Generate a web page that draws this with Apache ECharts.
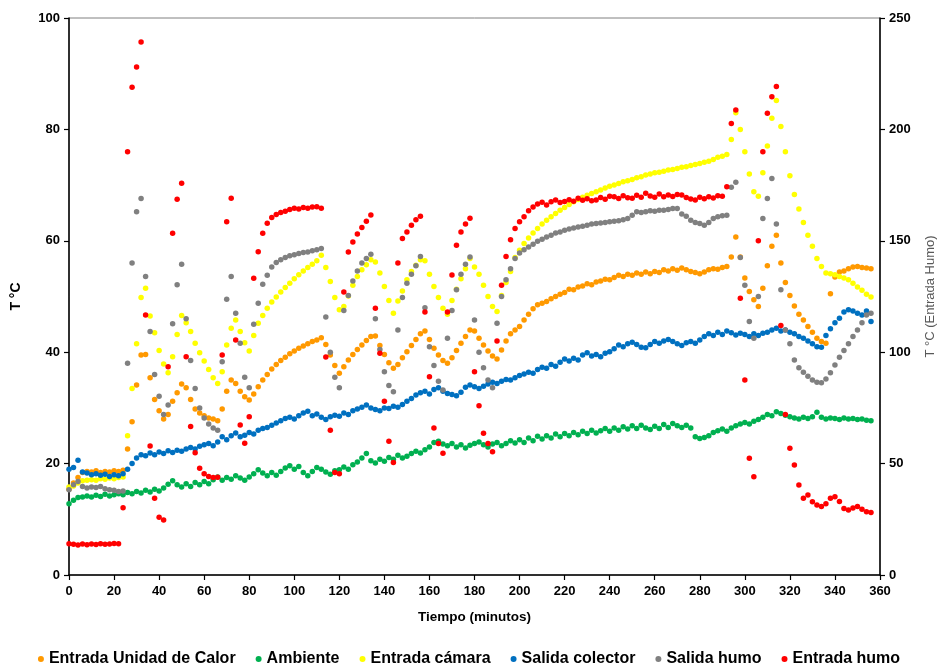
<!DOCTYPE html>
<html>
<head>
<meta charset="utf-8">
<script src="https://cdn.jsdelivr.net/npm/echarts@6/dist/echarts.min.js"></script>
<style>
html,body{margin:0;padding:0;background:#fff}
#grafico{width:938px;height:664px}
</style>
</head>
<body>
<div id="grafico"></div>
<script>
// tiempo en minutos
var tiempo = [0,2,4,6,8,10,12,14,16,18,20,22,24,26,28,30,32,34,36,38,40,42,44,46,48,50,52,54,56,58,
  60,62,64,66,68,70,72,74,76,78,80,82,84,86,88,90,92,94,96,98,100,102,104,106,108,110,112,114,116,118,
  120,122,124,126,128,130,132,134,136,138,140,142,144,146,148,150,152,154,156,158,160,162,164,166,168,170,172,174,176,178,
  180,182,184,186,188,190,192,194,196,198,200,202,204,206,208,210,212,214,216,218,220,222,224,226,228,230,232,234,236,238,
  240,242,244,246,248,250,252,254,256,258,260,262,264,266,268,270,272,274,276,278,280,282,284,286,288,290,292,294,296,298,
  300,302,304,306,308,310,312,314,316,318,320,322,324,326,328,330,332,334,336,338,340,342,344,346,348,350,352,354,356];

var entradaUnidadCalor = [
  15.4,16.5,17.5,18.4,18.6,18.5,18.7,18.4,18.6,18.5,
  18.7,18.6,18.8,22.6,27.5,34.1,39.5,39.6,35.4,31.5,
  29.5,28.0,28.8,31.2,32.7,34.3,33.6,31.5,29.8,29.1,
  28.6,28.2,28.0,27.7,29.8,33.0,35.0,34.4,33.0,32.0,
  31.4,32.5,33.8,35.0,36.0,37.0,37.8,38.5,39.1,39.7,
  40.2,40.7,41.1,41.5,41.9,42.2,42.6,41.4,39.5,37.6,
  36.2,37.4,38.6,39.6,40.5,41.3,42.1,42.8,42.9,41.2,
  39.6,38.1,37.1,37.8,39.0,40.1,41.2,42.3,43.3,43.8,
  42.3,40.7,39.5,38.5,38.0,39.0,40.3,41.6,42.8,44.0,
  43.8,42.5,41.3,40.2,39.3,38.8,40.4,42.0,43.3,44.0,
  44.6,45.8,46.8,47.8,48.5,48.8,49.1,49.6,50.0,50.4,
  50.7,51.3,51.2,51.7,51.9,52.3,52.1,52.6,52.8,53.1,
  53.0,53.4,53.8,53.6,54.0,53.8,54.2,54.0,54.4,54.1,
  54.5,54.3,54.8,54.6,55.0,54.7,55.1,54.8,54.5,54.3,
  54.1,54.4,54.8,55.0,54.9,55.2,55.4,57.1,60.7,57.1,
  53.3,50.9,49.4,48.2,51.5,55.5,59.0,61.0,56.0,52.5,
  50.2,48.3,46.8,45.8,44.6,43.6,42.5,41.9,41.6,50.5,
  53.5,54.4,54.6,55.0,55.3,55.4,55.2,55.1,55.0];

var ambiente = [
  12.8,13.4,13.9,14.0,14.2,14.0,14.3,14.1,14.5,14.2,
  14.4,14.6,14.4,14.8,14.6,15.0,14.7,15.2,14.9,15.4,
  15.1,15.6,16.3,16.9,16.2,15.8,16.4,15.9,16.6,16.2,
  16.8,16.4,17.1,17.6,17.0,17.5,17.2,17.8,17.4,17.0,
  17.6,18.2,18.9,18.3,17.8,18.4,17.9,18.6,19.2,19.6,
  19.0,19.5,18.4,17.8,18.6,19.3,19.0,18.5,18.1,18.7,
  18.9,19.4,19.0,19.8,20.3,21.0,21.8,20.5,20.1,20.8,
  20.4,21.1,20.8,21.5,21.0,21.3,21.8,22.2,21.9,22.5,
  23.0,23.8,24.0,23.5,23.2,23.6,23.0,23.4,22.8,23.3,
  23.6,23.9,23.4,23.0,23.5,23.8,23.2,23.6,24.1,23.7,
  24.3,23.8,24.6,24.1,24.9,24.4,25.0,24.6,25.3,24.8,
  25.4,25.0,25.6,25.2,25.8,25.4,26.0,25.5,25.9,26.3,
  25.8,26.4,26.0,26.6,26.2,26.8,26.3,26.9,26.4,26.1,
  26.7,26.3,27.0,26.5,27.2,26.8,26.5,26.9,26.4,24.8,
  24.5,24.7,25.0,25.6,25.9,26.2,25.8,26.4,26.8,27.1,
  27.4,27.1,27.6,27.9,28.3,28.8,28.6,29.3,29.0,28.7,
  28.4,28.2,28.0,28.3,28.1,28.4,29.2,28.3,28.0,28.2,
  28.1,27.9,28.2,28.0,28.1,27.9,28.0,27.8,27.7];

var entradaCamara = [
  15.8,16.0,16.5,16.9,17.0,17.1,17.0,17.3,17.2,17.4,
  17.3,17.5,17.6,25.0,33.5,41.5,49.8,51.5,46.5,43.5,
  40.3,37.9,36.3,39.2,43.2,46.6,45.3,43.7,41.6,39.9,
  38.4,36.9,35.4,34.4,36.5,41.3,44.3,45.8,43.7,41.7,
  40.2,43.0,45.2,46.6,47.9,49.0,49.9,50.8,51.6,52.4,
  53.2,53.9,54.6,55.2,55.8,56.4,57.4,55.2,52.7,49.8,
  47.6,48.2,50.1,52.0,53.6,54.8,55.7,56.6,56.2,54.2,
  51.8,49.3,47.0,49.2,51.0,53.0,54.5,55.6,56.6,56.4,
  54.0,51.8,49.8,47.9,46.8,49.3,51.3,53.2,55.0,56.8,
  55.3,54.0,52.0,50.0,48.2,47.3,50.2,52.5,54.5,57.0,
  58.3,59.5,60.5,61.4,62.2,63.0,63.7,64.3,64.9,65.5,
  66.0,66.5,67.0,67.4,67.8,68.2,68.5,68.8,69.1,69.5,
  69.8,70.0,70.3,70.6,70.8,71.0,71.3,71.5,71.8,72.0,
  72.2,72.3,72.5,72.7,72.8,73.0,73.2,73.3,73.5,73.7,
  73.9,74.1,74.3,74.6,75.0,75.2,75.5,78.2,83.0,80.0,
  76.0,72.0,68.8,68.0,72.2,77.0,82.0,85.2,80.5,76.0,
  71.7,68.3,65.7,63.3,61.0,59.0,56.8,55.4,54.2,54.1,
  53.9,53.6,53.3,53.0,52.4,51.7,51.1,50.4,49.9];

var salidaColector = [
  19.0,19.3,20.6,18.5,18.3,18.0,18.2,17.9,18.1,17.7,
  18.0,17.8,18.2,19.0,20.0,21.0,21.6,21.4,21.9,21.6,
  22.1,21.8,22.3,22.0,22.4,22.2,22.6,22.9,22.6,23.1,
  23.4,23.6,23.2,23.9,24.8,24.3,25.0,25.5,24.8,25.1,
  25.6,25.3,26.0,26.3,26.5,26.9,27.3,27.7,28.1,28.3,
  28.0,28.6,29.1,29.4,28.6,28.9,28.3,27.9,28.4,28.7,
  28.5,29.1,28.8,29.5,29.8,30.1,30.5,30.0,29.7,29.5,
  30.0,29.9,30.3,30.1,30.6,31.2,31.7,32.3,32.7,33.0,
  32.5,33.3,33.6,33.0,32.6,32.4,32.2,32.8,33.7,34.1,
  33.8,33.5,33.9,34.3,34.6,34.4,34.8,35.1,35.0,35.4,
  35.8,36.1,36.4,36.2,36.9,37.3,37.1,37.8,37.5,38.2,
  38.8,38.4,38.9,38.6,39.5,39.9,39.3,39.6,39.2,39.8,
  40.1,40.6,41.3,41.0,41.5,41.8,41.4,40.9,40.8,41.4,
  41.9,41.6,42.0,42.3,41.9,41.5,41.2,41.7,41.9,41.6,
  42.2,42.8,43.3,43.0,43.6,43.2,43.8,43.5,43.1,43.4,
  43.2,42.8,43.3,43.0,43.4,43.6,44.0,44.3,43.8,44.0,
  43.6,43.3,42.8,42.5,42.0,41.5,41.0,40.9,43.0,44.2,
  45.3,46.1,47.2,47.6,47.4,47.0,46.7,47.4,45.5];

var salidaHumo = [
  15.3,16.2,16.8,15.9,15.6,15.8,15.7,15.9,15.5,15.3,
  15.2,15.0,15.1,38.0,56.0,65.2,67.6,53.6,43.7,36.0,
  32.1,28.8,30.5,45.1,52.1,55.8,46.0,38.5,33.5,30.0,
  28.2,27.1,26.4,26.0,38.3,49.5,53.6,47.0,41.6,35.5,
  33.6,45.0,48.8,52.2,53.8,55.3,56.1,56.6,57.0,57.3,
  57.5,57.7,57.9,58.0,58.2,58.4,58.6,46.3,40.0,35.5,
  33.6,47.5,50.2,52.8,54.6,56.0,56.8,57.6,46.0,40.5,
  36.5,34.0,32.9,44.0,49.8,52.4,54.0,55.5,57.2,48.0,
  41.0,37.6,34.8,33.2,42.5,47.5,51.2,54.0,55.8,57.1,
  45.8,40.0,37.2,35.0,33.6,45.2,50.0,53.0,55.0,56.8,
  57.8,58.4,58.9,59.4,59.9,60.3,60.7,61.0,61.4,61.6,
  61.9,62.1,62.3,62.5,62.6,62.8,63.0,63.1,63.2,63.3,
  63.4,63.5,63.6,63.8,64.0,64.6,65.2,65.1,65.2,65.4,
  65.3,65.5,65.5,65.6,65.8,65.8,64.8,64.4,63.7,63.3,
  63.1,62.8,63.3,64.0,64.3,64.5,64.6,69.6,70.5,57.0,
  52.0,45.5,42.5,50.0,64.0,67.6,71.2,63.0,51.2,44.0,
  41.5,38.6,37.2,36.4,35.7,35.0,34.6,34.5,35.2,36.3,
  37.7,39.1,40.3,41.5,42.8,44.0,45.3,46.7,47.0];

// eje derecho (0-250)
var entradaHumo = [
  14.0,13.8,13.5,13.9,13.6,13.9,13.7,14.0,13.8,13.9,
  14.1,14.0,30.2,190.0,218.9,228.0,239.2,116.7,57.9,34.4,
  25.9,24.7,93.5,153.4,168.6,175.8,98.0,66.6,54.9,47.9,
  45.5,44.2,43.8,43.9,98.7,158.6,169.1,105.5,67.3,59.1,
  71.0,133.2,145.1,153.4,157.9,160.5,161.8,162.7,163.3,164.0,
  164.6,164.3,164.9,164.6,165.2,165.3,164.6,97.8,65.0,46.0,
  45.5,127.0,145.0,149.5,153.0,156.0,158.8,161.6,119.7,99.5,
  78.0,60.0,50.5,140.0,151.0,154.0,157.0,159.5,161.0,118.0,
  89.0,66.0,59.0,54.6,118.0,134.6,148.0,154.0,157.5,160.1,
  91.2,76.0,63.6,59.0,55.3,105.0,130.0,143.0,150.5,155.5,
  158.5,160.8,163.5,165.2,166.5,167.3,166.1,167.5,168.3,167.2,
  167.6,168.4,167.8,169.1,168.2,168.9,168.0,168.3,169.4,168.7,
  170.0,169.8,169.0,170.2,169.3,169.1,170.4,169.6,171.3,170.1,
  169.5,171.0,169.8,170.6,169.9,170.8,170.6,169.4,168.8,168.3,
  169.5,168.9,169.8,169.2,170.2,170.0,174.3,202.7,208.7,124.2,
  87.5,52.4,44.1,150.0,190.0,207.2,214.7,219.2,112.0,72.0,
  56.9,49.4,40.4,34.4,35.9,32.9,31.4,30.7,32.0,34.4,
  35.1,33.0,29.9,29.2,30.1,30.7,29.5,28.4,28.0];

var nombres = ['Entrada Unidad de Calor','Ambiente','Entrada cámara','Salida colector','Salida humo','Entrada humo'];
var colores = ['#FF9900','#00B050','#FFFF00','#0070C0','#808080','#FF0000'];
var valores = [entradaUnidadCalor, ambiente, entradaCamara, salidaColector, salidaHumo, entradaHumo];

function pares(v){
  var r = [];
  for (var i = 0; i < tiempo.length; i++) r.push([tiempo[i], v[i]]);
  return r;
}

var fuente = "'Liberation Sans', Arial, sans-serif";
var series = [];
for (var s = 0; s < nombres.length; s++) {
  series.push({
    name: nombres[s],
    type: 'scatter',
    yAxisIndex: s == 5 ? 1 : 0,
    symbolSize: 5.5,
    itemStyle: {color: colores[s], opacity: 1},
    emphasis: {disabled: true},
    data: pares(valores[s])
  });
}

var etiqueta = {color: '#000', fontFamily: fuente, fontWeight: 'bold', fontSize: 13};
var linea = {show: true, lineStyle: {color: '#000', width: 1.5}};
var marca = {show: true, inside: false, length: 5, lineStyle: {color: '#000', width: 1.2}};

var chart = echarts.init(document.getElementById('grafico'));
chart.setOption({
  animation: false,
  backgroundColor: '#fff',
  grid: {left: 69, right: 58, top: 18, bottom: 89, outerBoundsMode: 'none', containLabel: false,
    show: true, borderColor: '#808080', borderWidth: 1},
  legend: {
    top: 646, left: 'center',
    icon: 'circle', itemWidth: 6, itemHeight: 6, itemGap: 20,
    textStyle: {color: '#000', fontFamily: fuente, fontWeight: 'bold', fontSize: 16},
    data: nombres
  },
  xAxis: {
    type: 'value', min: 0, max: 360, interval: 20,
    name: 'Tiempo (minutos)', nameLocation: 'middle', nameGap: 35,
    nameTextStyle: {color: '#000', fontFamily: fuente, fontWeight: 'bold', fontSize: 13.5},
    axisLine: linea, axisTick: marca,
    axisLabel: Object.assign({margin: 10}, etiqueta),
    splitLine: {show: false}
  },
  yAxis: [{
    type: 'value', min: 0, max: 100, interval: 20, position: 'left',
    name: 'T °C', nameLocation: 'middle', nameRotate: 90, nameGap: 46,
    nameTextStyle: {color: '#000', fontFamily: fuente, fontWeight: 'bold', fontSize: 14},
    axisLine: linea, axisTick: marca,
    axisLabel: Object.assign({margin: 9}, etiqueta),
    splitLine: {show: false}
  }, {
    type: 'value', min: 0, max: 250, interval: 50, position: 'right',
    name: 'T °C (Entrada Humo)', nameLocation: 'middle', nameRotate: 90, nameGap: 44,
    nameTextStyle: {color: '#595959', fontFamily: fuente, fontSize: 13},
    axisLine: linea, axisTick: marca,
    axisLabel: Object.assign({margin: 9}, etiqueta),
    splitLine: {show: false}
  }],
  series: series
});
</script>
</body>
</html>
